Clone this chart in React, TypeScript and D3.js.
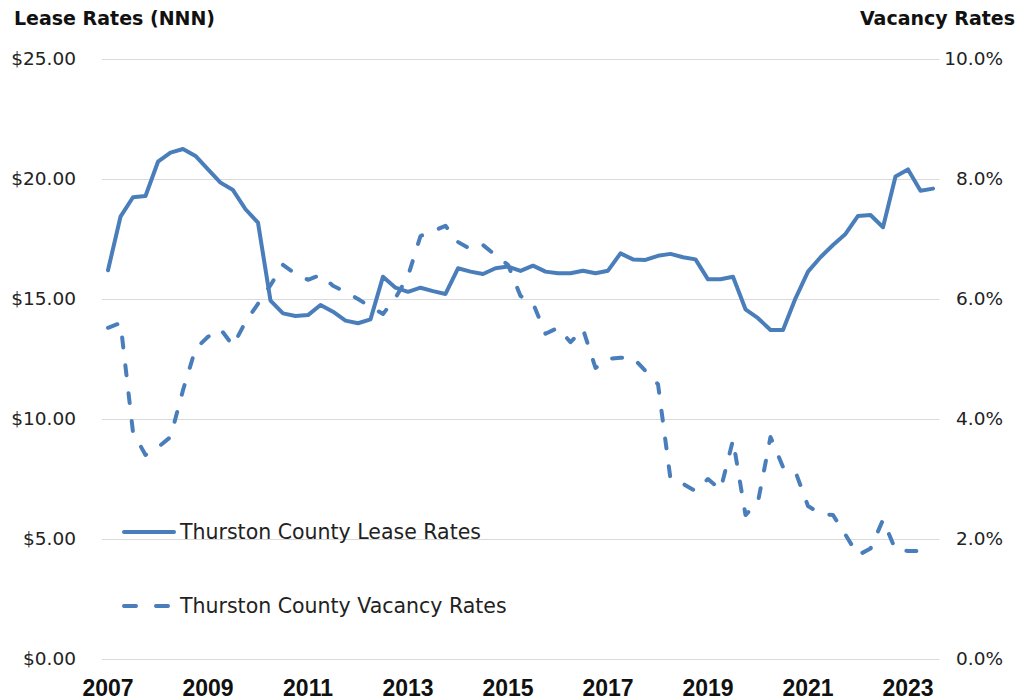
import { useRef, useEffect } from "react";
import * as d3 from "d3";

const years = ["2007", "2008", "2009", "2010", "2011", "2012", "2013", "2014", "2015", "2016", "2017", "2018", "2019", "2020", "2021", "2022", "2023"];
const quarterNames = ["Q1", "Q2", "Q3", "Q4"];
// quarterly categories, 2007 Q1 .. 2023 Q3
const quarters = years.flatMap((y) => quarterNames.map((q) => `${y} ${q}`)).slice(0, 67);

const yearTicks = ["2007", "2009", "2011", "2013", "2015", "2017", "2019", "2021", "2023"];

const leaseRates = [
    16.2, 18.43, 19.24, 19.29, 20.72, 21.1, 21.25, 20.96, 20.4, 19.85, 19.54, 18.74,
    18.18, 14.93, 14.4, 14.29, 14.33, 14.75, 14.47, 14.1, 13.99, 14.15, 15.93, 15.47,
    15.3, 15.47, 15.33, 15.21, 16.28, 16.14, 16.04, 16.28, 16.35, 16.17, 16.39, 16.14,
    16.07, 16.07, 16.18, 16.07, 16.18, 16.9, 16.65, 16.63, 16.8, 16.88, 16.74, 16.65,
    15.82, 15.82, 15.93, 14.57, 14.2, 13.71, 13.71, 15.03, 16.14, 16.74, 17.25, 17.71,
    18.46, 18.5, 17.99, 20.1, 20.4, 19.51, 19.6,
];

const vacancyRates = [
    5.52, 5.6, 3.78, 3.4, 3.53, 3.7, 4.48, 5.17, 5.37, 5.5, 5.22, 5.62,
    5.92, 6.23, 6.57, 6.42, 6.32, 6.4, 6.22, 6.12, 6.0, 5.87, 5.75, 6.02,
    6.38, 7.05, 7.13, 7.22, 6.95, 6.83, 6.9, 6.73, 6.57, 6.05, 5.93, 5.42,
    5.52, 5.28, 5.5, 4.85, 5.0, 5.02, 5.02, 4.8, 4.58, 3.0, 2.92, 2.8,
    3.0, 2.82, 3.65, 2.4, 2.62, 3.7, 3.2, 3.12, 2.55, 2.42, 2.4, 2.07,
    1.73, 1.84, 2.32, 1.82, 1.8, 1.8, 1.8,
];

const leftTicks = [0, 5, 10, 15, 20, 25];
const rightTicks = [0, 2, 4, 6, 8, 10];

const seriesNames = ["Thurston County Lease Rates", "Thurston County Vacancy Rates"];

const lineColor = "#4a7ebb";
const labelFont = "'DejaVu Sans', sans-serif";

export default function App() {
    const svgRef = useRef<SVGSVGElement>(null);

    useEffect(() => {
        if (!svgRef.current) return;
        const svg = d3.select(svgRef.current);
        svg.selectAll("*").remove();

        const width = 1024;
        const height = 700;
        const margin = { top: 59, bottom: 41, left: 101.75, right: 84.75 };

        const x = d3
            .scaleBand()
            .domain(quarters)
            .range([margin.left, width - margin.right]);
        const cx = (q: string) => x(q)! + x.bandwidth() / 2;

        const yLeft = d3.scaleLinear().domain([0, 25]).range([height - margin.bottom, margin.top]);
        const yRight = d3.scaleLinear().domain([0, 10]).range([height - margin.bottom, margin.top]);

        // gridlines
        svg.append("g")
            .selectAll("line")
            .data(leftTicks)
            .join("line")
            .attr("x1", margin.left)
            .attr("x2", width - margin.right)
            .attr("y1", (d) => Math.round(yLeft(d)) + 0.5)
            .attr("y2", (d) => Math.round(yLeft(d)) + 0.5)
            .attr("stroke", "#d9d9d9")
            .attr("stroke-width", 1);

        // left axis labels
        svg.append("g")
            .selectAll("text")
            .data(leftTicks)
            .join("text")
            .attr("x", 76)
            .attr("y", (d) => yLeft(d))
            .attr("dy", "0.35em")
            .attr("text-anchor", "end")
            .attr("font-family", labelFont)
            .attr("font-size", 18.5)
            .attr("fill", "#222")
            .text((d) => d3.format("$.2f")(d));

        // right axis labels
        svg.append("g")
            .selectAll("text")
            .data(rightTicks)
            .join("text")
            .attr("x", 1003)
            .attr("y", (d) => yRight(d))
            .attr("dy", "0.35em")
            .attr("text-anchor", "end")
            .attr("font-family", labelFont)
            .attr("font-size", 18.5)
            .attr("fill", "#222")
            .text((d) => `${d.toFixed(1)}%`);

        // year labels
        svg.append("g")
            .selectAll("text")
            .data(yearTicks)
            .join("text")
            .attr("x", (d) => cx(`${d} Q1`))
            .attr("y", 696)
            .attr("text-anchor", "middle")
            .attr("font-family", "'Liberation Sans Narrow', 'Arial Narrow', sans-serif")
            .attr("font-weight", "bold")
            .attr("font-size", 23)
            .attr("fill", "#111")
            .text((d) => d);

        // axis titles
        svg.append("text")
            .attr("x", 14)
            .attr("y", 25)
            .attr("font-family", labelFont)
            .attr("font-weight", "bold")
            .attr("font-size", 19)
            .attr("fill", "#111")
            .text("Lease Rates (NNN)");
        svg.append("text")
            .attr("x", 1015)
            .attr("y", 25)
            .attr("text-anchor", "end")
            .attr("font-family", labelFont)
            .attr("font-weight", "bold")
            .attr("font-size", 19)
            .attr("fill", "#111")
            .text("Vacancy Rates");

        const leaseLine = d3
            .line<number>()
            .x((_, i) => cx(quarters[i]))
            .y((d) => yLeft(d));
        const vacancyLine = d3
            .line<number>()
            .x((_, i) => cx(quarters[i]))
            .y((d) => yRight(d));

        svg.append("path")
            .datum(vacancyRates)
            .attr("d", vacancyLine)
            .attr("fill", "none")
            .attr("stroke", lineColor)
            .attr("stroke-width", 4)
            .attr("stroke-linecap", "round")
            .attr("stroke-linejoin", "round")
            .attr("stroke-dasharray", "10 18");

        svg.append("path")
            .datum(leaseRates)
            .attr("d", leaseLine)
            .attr("fill", "none")
            .attr("stroke", lineColor)
            .attr("stroke-width", 4)
            .attr("stroke-linecap", "round")
            .attr("stroke-linejoin", "round");

        // legend
        const legend = svg.append("g");
        const legendRows = [532, 606];
        seriesNames.forEach((name, i) => {
            legend
                .append("line")
                .attr("x1", 124)
                .attr("x2", i === 0 ? 174 : 170)
                .attr("y1", legendRows[i])
                .attr("y2", legendRows[i])
                .attr("stroke", lineColor)
                .attr("stroke-width", 4)
                .attr("stroke-linecap", "round")
                .attr("stroke-dasharray", i === 0 ? null : "12 20");
            legend
                .append("text")
                .attr("x", 180)
                .attr("y", legendRows[i])
                .attr("dy", "0.35em")
                .attr("font-family", labelFont)
                .attr("font-size", 20.5)
                .attr("fill", "#222")
                .text(name);
        });
    }, []);

    return <svg ref={svgRef} width={1024} height={700} style={{ position: "absolute", left: 0, top: 0 }} />;
}
